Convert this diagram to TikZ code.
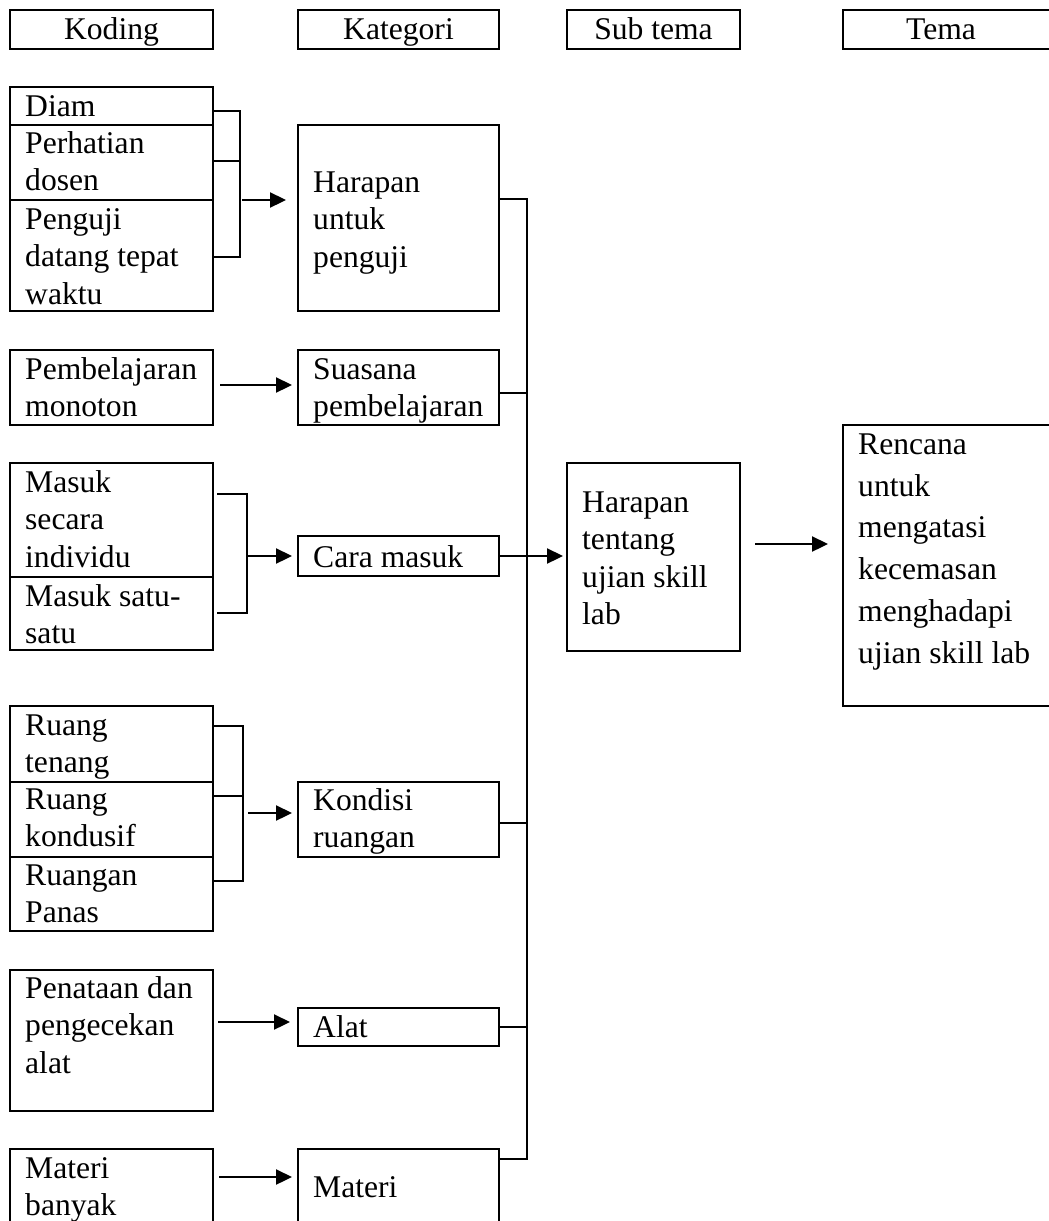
\documentclass[tikz,border=0pt]{standalone}
\usepackage{fontspec}
\setmainfont{Liberation Serif}
\usetikzlibrary{arrows.meta}

% invisible strut fixing the top of every first text line
\newcommand\tstrut{\rule{0pt}{24pt}}
% framed cell: name, left, top, width, height, first-baseline offset, text
\newcommand\cellbox[7]{%
  \node[cell, minimum width=#4pt, minimum height=#5pt] (#1) at (#2,#3) {};
  \node[txt] (#1-text) at (#2+15,#3+#6-24) {\tstrut #7};}

\begin{document}
\begin{tikzpicture}[x=1pt, y=-1pt,
  cell/.style={draw, line width=2.3pt, anchor=north west, inner sep=0pt, outer sep=0pt},
  txt/.style={anchor=north west, inner sep=0pt, align=left, font=\fontsize{31.6}{37.5}\selectfont},
  hdr/.style={anchor=base, inner sep=0pt, font=\fontsize{31.6}{37.5}\selectfont},
  wire/.style={line width=2.3pt, line join=miter},
  flow/.style={wire, -{Triangle[length=16pt,width=15pt]}}]
\useasboundingbox (0,0) rectangle (1049,1221);
\clip (0,0) rectangle (1049,1221);

% column headers
\node[cell, minimum width=203pt, minimum height=39pt] (koding) at (10,10) {};
\node[hdr] (koding-text) at (111.5,39) {Koding};
\node[cell, minimum width=201pt, minimum height=39pt] (kategori) at (298,10) {};
\node[hdr] (kategori-text) at (398.5,39) {Kategori};
\node[cell, minimum width=173pt, minimum height=39pt] (subtema) at (567,10) {};
\node[hdr] (subtema-text) at (653.5,39) {Sub tema};
\node[cell, minimum width=240pt, minimum height=39pt] (tema) at (843,10) {};
\node[hdr] (tema-text) at (941,39) {Tema};

% coding column
\cellbox{diam}{10}{87}{203}{38}{29}{Diam}
\cellbox{perhatian}{10}{125}{203}{75}{28}{Perhatian\\dosen}
\cellbox{penguji}{10}{200}{203}{111}{29}{Penguji\\datang tepat\\waktu}
\cellbox{pembelajaran}{10}{350}{203}{75}{29}{Pembelajaran\\monoton}
\cellbox{masuk}{10}{463}{203}{114}{29}{Masuk\\secara\\individu}
\cellbox{masuksatu}{10}{577}{203}{73}{29}{Masuk satu-\\satu}
\cellbox{ruangtenang}{10}{706}{203}{76}{29}{Ruang\\tenang}
\cellbox{ruangkondusif}{10}{782}{203}{75}{27}{Ruang\\kondusif}
\cellbox{ruanganpanas}{10}{857}{203}{74}{28}{Ruangan\\Panas}
\cellbox{penataan}{10}{970}{203}{141}{28}{Penataan dan\\pengecekan\\alat}
\cellbox{materibanyak}{10}{1149}{203}{110}{29}{Materi\\banyak}

% category column
\cellbox{harapanpenguji}{298}{125}{201}{186}{67}{Harapan\\untuk\\penguji}
\cellbox{suasana}{298}{350}{201}{75}{29}{Suasana\\pembelajaran}
\cellbox{cara}{298}{536}{201}{40}{31}{Cara masuk}
\cellbox{kondisi}{298}{782}{201}{75}{28}{Kondisi\\ruangan}
\cellbox{alat}{298}{1008}{201}{38}{29}{Alat}
\cellbox{materi}{298}{1149}{201}{110}{48}{Materi}

% sub-theme and theme
\cellbox{harapantentang}{567}{463}{173}{188}{49}{Harapan\\tentang\\ujian skill\\lab}
\node[cell, minimum width=240pt, minimum height=281pt] (rencana) at (843,425) {};
\node[txt, font=\fontsize{31.6}{41.8}\selectfont] (rencana-text) at (858,430)
  {\tstrut Rencana\\untuk\\mengatasi\\kecemasan\\menghadapi\\ujian skill lab};

% bracket: Diam / Perhatian dosen / Penguji -> Harapan untuk penguji
\coordinate (k1) at (240,111);
\coordinate (k2) at (240,161);
\coordinate (k3) at (240,257);
\coordinate (k4) at (242,200);
\draw[wire] (diam.east |- k1) -- (k1) -- (k3) -- (penguji.east |- k3);
\draw[wire] (perhatian.east |- k2) -- (k2);
\draw[flow] (k4) -- ([xshift=-12pt]harapanpenguji.west |- k4);

% Pembelajaran monoton -> Suasana pembelajaran
\coordinate (p0) at (220,385);
\draw[flow] (p0) -- ([xshift=-6pt]suasana.west |- p0);

% bracket: Masuk ... -> Cara masuk
\coordinate (m1) at (247,494);
\coordinate (m2) at (247,613);
\coordinate (m3) at (247,556);
\draw[wire] ([xshift=4pt]masuk.east |- m1) -- (m1) -- (m2) -- ([xshift=4pt]masuksatu.east |- m2);
\draw[flow] (m3) -- ([xshift=-6pt]cara.west |- m3);

% bracket: Ruang ... -> Kondisi ruangan
\coordinate (r1) at (243,726);
\coordinate (r2) at (243,796);
\coordinate (r3) at (243,881);
\coordinate (r4) at (248,813);
\draw[wire] (ruangtenang.east |- r1) -- (r1) -- (r3) -- (ruanganpanas.east |- r3);
\draw[wire] (ruangkondusif.east |- r2) -- (r2);
\draw[flow] (r4) -- ([xshift=-6pt]kondisi.west |- r4);

% Penataan -> Alat, Materi banyak -> Materi
\coordinate (a0) at (218,1022);
\draw[flow] (a0) -- ([xshift=-8pt]alat.west |- a0);
\coordinate (b0) at (219,1177);
\draw[flow] (b0) -- ([xshift=-6pt]materi.west |- b0);

% trunk collecting the categories
\coordinate (t1) at (527,199);
\coordinate (t2) at (527,1159);
\coordinate (s1) at (527,393);
\coordinate (c1) at (527,823);
\draw[wire] (harapanpenguji.east |- t1) -- (t1) -- (t2) -- (materi.east |- t2);
\draw[wire] (suasana.east |- s1) -- (s1);
\draw[wire] (kondisi.east |- c1) -- (c1);
\draw[wire] (alat.east) -- (alat.east -| t1);
\draw[flow] (cara.east) -- ([xshift=-4pt]harapantentang.west |- cara.east);

% sub-theme -> theme
\coordinate (h1) at (755,544);
\draw[flow] (h1) -- ([xshift=-15pt]rencana.west |- h1);
\end{tikzpicture}
\end{document}
